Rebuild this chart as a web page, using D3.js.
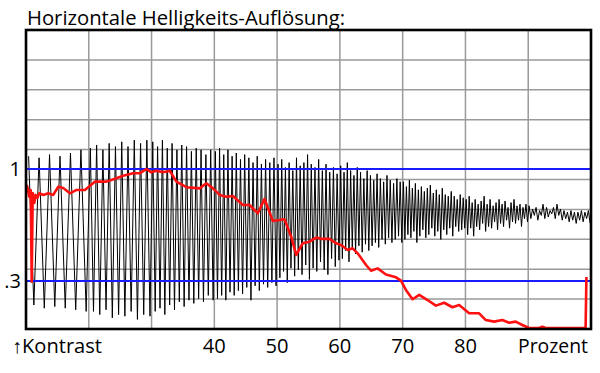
<!DOCTYPE html>
<html>
<head>
<meta charset="utf-8">
<script src="https://cdn.jsdelivr.net/npm/d3@7"></script>
<style>
  body { margin: 0; background: #fff; }
  svg { display: block; }
</style>
</head>
<body>
<div class="chart"></div>
<script>
const width = 600;
const height = 373;
const plot = {left: 26, right: 591, top: 30, bottom: 329};

// x axis: Prozent, y axis: Kontrast
const xTicks = [40, 50, 60, 70, 80];
const refLevels = [1, 0.3];
const refLabels = ["1", ".3"];

// black test signal: number of oscillations per 10 % step, peak / trough per oscillation
const cyclesPerStep = [6, 10, 13, 15, 17, 19, 21, 21, 18];
const traceHi = [
  1.08, 1.07, 1.09, 1.08, 1.10, 1.12,
  1.13, 1.15, 1.12, 1.16, 1.14, 1.17, 1.14, 1.18, 1.16, 1.18,
  1.17, 1.14, 1.18, 1.13, 1.16, 1.12, 1.15, 1.14, 1.11, 1.13, 1.12, 1.09, 1.12,
  1.11, 1.13, 1.09, 1.12, 1.08, 1.10, 1.06, 1.09, 1.07, 1.04, 1.08, 1.03, 1.06, 1.04, 1.07,
  1.03, 1.06, 1.01, 1.04, 0.99, 1.07, 1.02, 1.04, 1.09, 1.03, 1.01, 1.06, 0.99, 1.03, 0.98, 1.01, 0.97,
  1.02, 0.98, 1.04, 0.99, 0.96, 1.01, 0.98, 0.94, 0.99, 0.96, 0.93, 0.97, 0.94, 0.92, 0.96, 0.93, 0.91, 0.94, 0.92,
  0.92, 0.89, 0.93, 0.88, 0.91, 0.87, 0.89, 0.86, 0.88, 0.90, 0.85, 0.87, 0.84, 0.88, 0.84, 0.83, 0.86, 0.83, 0.81, 0.84, 0.82,
  0.81, 0.83, 0.79, 0.81, 0.78, 0.80, 0.83, 0.78, 0.81, 0.77, 0.79, 0.81, 0.78, 0.80, 0.76, 0.79, 0.81, 0.77, 0.78, 0.76, 0.78,
  0.77, 0.75, 0.76, 0.74, 0.78, 0.76, 0.74, 0.76, 0.78, 0.75, 0.74, 0.73, 0.74, 0.73, 0.73, 0.74, 0.73, 0.74
];
const traceLo = [
  0.15, 0.13, 0.14, 0.13, 0.12, 0.11,
  0.11, 0.09, 0.12, 0.07, 0.09, 0.08, 0.11, 0.06, 0.09, 0.08,
  0.11, 0.13, 0.09, 0.15, 0.12, 0.17, 0.14, 0.18, 0.16, 0.19, 0.17, 0.21, 0.18,
  0.19, 0.21, 0.18, 0.23, 0.21, 0.24, 0.22, 0.26, 0.18, 0.27, 0.24, 0.28, 0.26, 0.29, 0.27,
  0.32, 0.36, 0.29, 0.38, 0.33, 0.37, 0.34, 0.40, 0.31, 0.38, 0.36, 0.42, 0.37, 0.34, 0.44, 0.39, 0.43,
  0.44, 0.49, 0.42, 0.51, 0.47, 0.52, 0.48, 0.53, 0.49, 0.52, 0.54, 0.51, 0.56, 0.53, 0.57, 0.54, 0.56, 0.58, 0.54,
  0.56, 0.59, 0.57, 0.61, 0.54, 0.58, 0.62, 0.57, 0.59, 0.63, 0.58, 0.61, 0.56, 0.62, 0.59, 0.63, 0.58, 0.64, 0.61, 0.62, 0.63,
  0.59, 0.63, 0.58, 0.64, 0.62, 0.66, 0.61, 0.64, 0.63, 0.67, 0.62, 0.66, 0.64, 0.68, 0.63, 0.67, 0.66, 0.68, 0.64, 0.69, 0.67,
  0.69, 0.71, 0.68, 0.71, 0.69, 0.70, 0.72, 0.69, 0.71, 0.68, 0.69, 0.67, 0.68, 0.66, 0.68, 0.67, 0.69, 0.66
];

// red measured contrast curve
const redX = [
  10.08, 10.21, 10.52, 10.75, 10.91, 11.07, 11.32, 11.54, 11.80, 12.11, 12.75, 13.55, 14.34,
  15.14, 15.93, 17.00, 18.06, 19.38, 20.97, 22.83, 24.42, 25.47, 27.06, 28.12, 29.19, 29.98,
  30.78, 31.83, 32.89, 33.96, 35.55, 37.66, 38.73, 39.78, 40.84, 41.91, 42.96, 44.55, 45.61,
  46.93, 48.00, 49.32, 51.18, 52.24, 53.04, 54.09, 55.15, 56.22, 57.27, 58.33, 59.40, 60.19,
  61.24, 62.03, 62.83, 64.17, 64.96, 66.01, 67.34, 68.93, 69.73, 70.52, 71.57, 72.64, 73.96,
  75.29, 76.61, 77.93, 79.00, 80.59, 82.18, 83.24, 84.56, 85.88, 86.95, 88.01, 89.06, 90.13,
  91.72, 92.24, 92.78, 99.14, 99.27
];
const redY = [
  0.900, 0.889, 0.827, 0.869, 0.296, 0.850, 0.788, 0.838, 0.819, 0.848, 0.838, 0.848, 0.838,
  0.889, 0.881, 0.848, 0.869, 0.869, 0.921, 0.921, 0.942, 0.958, 0.973, 0.973, 1.000, 0.979,
  0.989, 0.979, 0.989, 0.921, 0.886, 0.879, 0.911, 0.879, 0.838, 0.827, 0.831, 0.775, 0.775,
  0.723, 0.813, 0.675, 0.686, 0.577, 0.463, 0.536, 0.546, 0.571, 0.563, 0.563, 0.536, 0.525,
  0.494, 0.504, 0.473, 0.400, 0.364, 0.379, 0.341, 0.323, 0.302, 0.244, 0.186, 0.213, 0.181,
  0.146, 0.164, 0.136, 0.150, 0.098, 0.098, 0.056, 0.046, 0.056, 0.039, 0.046, 0.025, 0.006,
  0.006, 0.014, 0.006, 0.006, 0.325
];

const x = d3.scaleLinear().domain([10, 100]).range([plot.left, plot.right]);
const y = d3.scaleLinear().domain([0, 1]).range([plot.bottom, 169]);

const svg = d3.select(".chart")
  .append("svg")
  .attr("width", width)
  .attr("height", height)
  .style("font-family", "'Open Sans', sans-serif");

svg.append("defs").append("clipPath")
  .attr("id", "plot-clip")
  .append("rect")
  .attr("x", plot.left)
  .attr("y", plot.top)
  .attr("width", plot.right - plot.left)
  .attr("height", plot.bottom - plot.top);

// grid: 9 columns (one per 10 %), 10 rows
const grid = svg.append("g").attr("stroke", "#9a9a9a").attr("stroke-width", 1.5);
grid.selectAll(".vgrid")
  .data(d3.range(20, 100, 10))
  .join("line")
  .attr("x1", d => x(d)).attr("x2", d => x(d))
  .attr("y1", plot.top).attr("y2", plot.bottom);
grid.selectAll(".hgrid")
  .data(d3.range(1, 10))
  .join("line")
  .attr("x1", plot.left).attr("x2", plot.right)
  .attr("y1", d => plot.top + d * (plot.bottom - plot.top) / 10)
  .attr("y2", d => plot.top + d * (plot.bottom - plot.top) / 10);

// black oscillation
const tracePts = [];
let c = 0;
cyclesPerStep.forEach((n, i) => {
  const x0 = 10 + i * 10;
  for (let k = 0; k < n; k++, c++) {
    tracePts.push([x0 + (k + 0.25) * 10 / n, traceHi[c]]);
    tracePts.push([x0 + (k + 0.75) * 10 / n, traceLo[c]]);
  }
});

const line = d3.line().x(d => x(d[0])).y(d => y(d[1]));

svg.append("path")
  .attr("clip-path", "url(#plot-clip)")
  .attr("d", line(tracePts))
  .attr("fill", "none")
  .attr("stroke", "#000")
  .attr("stroke-width", 1);

// blue reference levels
svg.selectAll(".ref")
  .data(refLevels)
  .join("line")
  .attr("x1", plot.left).attr("x2", plot.right)
  .attr("y1", d => y(d)).attr("y2", d => y(d))
  .attr("stroke", "#1a1aff")
  .attr("stroke-width", 2);

// red curve
svg.append("path")
  .attr("clip-path", "url(#plot-clip)")
  .attr("d", line(redX.map((v, i) => [v, redY[i]])))
  .attr("fill", "none")
  .attr("stroke", "#ff1010")
  .attr("stroke-width", 2.6)
  .attr("stroke-linejoin", "round");

// frame
svg.append("rect")
  .attr("x", plot.left).attr("y", plot.top)
  .attr("width", plot.right - plot.left)
  .attr("height", plot.bottom - plot.top)
  .attr("fill", "none")
  .attr("stroke", "#000")
  .attr("stroke-width", 2.6);

// texts
svg.append("text")
  .attr("x", 27).attr("y", 25)
  .attr("font-size", 20)
  .attr("textLength", 318)
  .attr("lengthAdjust", "spacingAndGlyphs")
  .text("Horizontale Helligkeits-Auflösung:");

svg.selectAll(".ylab")
  .data(refLevels)
  .join("text")
  .attr("x", 21)
  .attr("y", d => y(d) + 7)
  .attr("text-anchor", "end")
  .attr("font-size", 20)
  .text((d, i) => refLabels[i]);

svg.selectAll(".xlab")
  .data(xTicks)
  .join("text")
  .attr("x", d => x(d))
  .attr("y", 353)
  .attr("text-anchor", "middle")
  .attr("font-size", 20)
  .attr("textLength", 23)
  .attr("lengthAdjust", "spacingAndGlyphs")
  .text(d => d);

svg.append("text")
  .attr("x", 12).attr("y", 353)
  .attr("font-size", 20)
  .attr("textLength", 90)
  .attr("lengthAdjust", "spacingAndGlyphs")
  .text("↑Kontrast");

svg.append("text")
  .attr("x", 518).attr("y", 353)
  .attr("font-size", 20)
  .attr("textLength", 70)
  .attr("lengthAdjust", "spacingAndGlyphs")
  .text("Prozent");
</script>
</body>
</html>
